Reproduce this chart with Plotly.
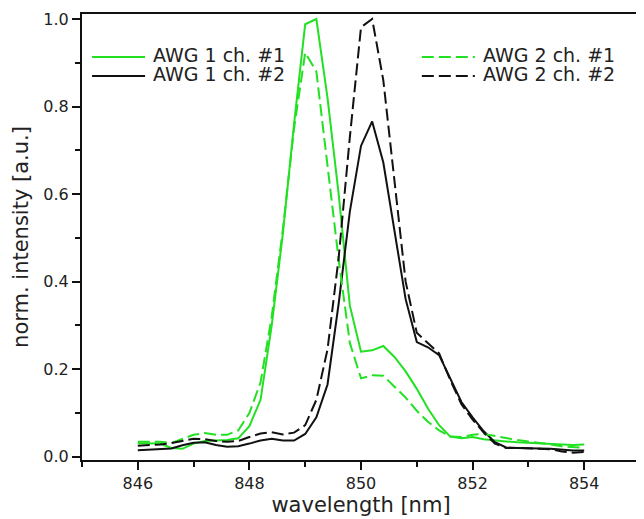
import plotly.graph_objects as go

wavelength = [846.0 + 0.2 * i for i in range(41)]

awg1_ch1 = [0.031, 0.031, 0.030, 0.020, 0.018, 0.030, 0.036, 0.037, 0.038, 0.042,
            0.070, 0.130, 0.300, 0.510, 0.760, 0.988, 1.000, 0.820, 0.600, 0.345,
            0.240, 0.243, 0.253, 0.228, 0.195, 0.155, 0.110, 0.072, 0.046, 0.042,
            0.045, 0.040, 0.037, 0.035, 0.033, 0.032, 0.030, 0.029, 0.028, 0.027,
            0.028]
awg1_ch2 = [0.015, 0.016, 0.017, 0.019, 0.026, 0.032, 0.033, 0.027, 0.023, 0.024,
            0.030, 0.037, 0.041, 0.037, 0.037, 0.052, 0.090, 0.165, 0.350, 0.560,
            0.710, 0.766, 0.672, 0.520, 0.360, 0.262, 0.250, 0.232, 0.180, 0.125,
            0.090, 0.058, 0.033, 0.021, 0.020, 0.020, 0.019, 0.018, 0.016, 0.014,
            0.014]
awg2_ch1 = [0.034, 0.034, 0.034, 0.031, 0.040, 0.050, 0.054, 0.050, 0.050, 0.060,
            0.100, 0.170, 0.320, 0.520, 0.750, 0.923, 0.880, 0.670, 0.450, 0.260,
            0.179, 0.186, 0.185, 0.160, 0.135, 0.105, 0.080, 0.060, 0.046, 0.045,
            0.050, 0.052, 0.047, 0.042, 0.038, 0.035, 0.032, 0.028, 0.024, 0.022,
            0.020]
awg2_ch2 = [0.025, 0.026, 0.028, 0.031, 0.036, 0.041, 0.040, 0.036, 0.034, 0.036,
            0.045, 0.053, 0.056, 0.051, 0.055, 0.072, 0.130, 0.245, 0.455, 0.730,
            0.981, 1.000, 0.860, 0.630, 0.400, 0.283, 0.260, 0.236, 0.175, 0.120,
            0.085, 0.055, 0.030, 0.020, 0.020, 0.019, 0.018, 0.017, 0.012, 0.009,
            0.011]

series_names = ["AWG 1 ch. #1", "AWG 1 ch. #2", "AWG 2 ch. #1", "AWG 2 ch. #2"]
x_ticks = [846, 848, 850, 852, 854]
y_ticks = [0.0, 0.2, 0.4, 0.6, 0.8, 1.0]

GREEN = "#22e022"
BLACK = "#111111"
TEXT = "#222222"
FONT = "DejaVu Sans"
DASH = "12px,5px"

series = [
    (awg1_ch1, GREEN, "solid"),
    (awg1_ch2, BLACK, "solid"),
    (awg2_ch1, GREEN, DASH),
    (awg2_ch2, BLACK, DASH),
]

fig = go.Figure()
for name, (vals, color, dash) in zip(series_names, series):
    fig.add_trace(go.Scatter(x=wavelength, y=vals, mode="lines", name=name,
                             line=dict(color=color, width=2, dash=dash),
                             showlegend=False))

# legend drawn as two blocks (sample line + label), as in the original figure
legend_blocks = [
    (0.018, 0.113, 0.1235, [0, 1]),
    (0.609, 0.704, 0.7155, [2, 3]),
]
row_y = [0.9036, 0.861]
for x0, x1, xt, idxs in legend_blocks:
    for ry, i in zip(row_y, idxs):
        _, color, dash = series[i]
        fig.add_shape(type="line", xref="paper", yref="paper", x0=x0, x1=x1, y0=ry, y1=ry,
                      line=dict(color=color, width=2, dash=dash))
        fig.add_annotation(xref="paper", yref="paper", x=xt, y=ry + 0.004, xanchor="left",
                           yanchor="middle", text=series_names[i], showarrow=False,
                           font=dict(family=FONT, size=19, color=TEXT))

axis_common = dict(
    showline=True, linecolor=BLACK, linewidth=2, mirror=True,
    ticks="outside", ticklen=8, tickwidth=1.5, tickcolor=BLACK,
    showgrid=False, zeroline=False, automargin=False,
    tickfont=dict(family=FONT, size=16, color=TEXT),
)

# the page body has an 8px margin, so the figure is sized to fit inside the window
fig.update_layout(
    width=636, height=511,
    margin=dict(l=74, r=4, t=6, b=59),
    paper_bgcolor="white", plot_bgcolor="white",
    font=dict(family=FONT, color=TEXT),
    showlegend=False,
    xaxis=dict(range=[845, 855], tickvals=x_ticks,
               minor=dict(dtick=1, tick0=845, ticks="outside", ticklen=5, tickcolor=BLACK),
               title=dict(text="wavelength [nm]", font=dict(family=FONT, size=21, color=TEXT), standoff=3),
               **axis_common),
    yaxis=dict(range=[-0.0075, 1.0114], tickvals=y_ticks, tickformat=".1f",
               minor=dict(dtick=0.1, tick0=0, ticks="outside", ticklen=5, tickcolor=BLACK),
               title=dict(text="norm. intensity [a.u.]", font=dict(family=FONT, size=21, color=TEXT), standoff=9),
               **axis_common),
)

fig.write_html("out.html")
